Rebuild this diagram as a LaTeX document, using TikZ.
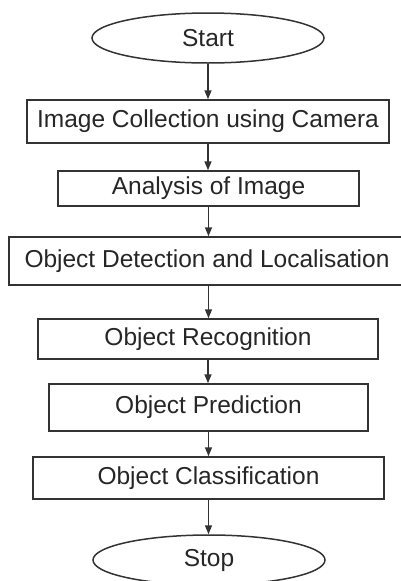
\documentclass[tikz,border=0pt]{standalone}
\usepackage{fontspec}
\setmainfont{Liberation Sans}
\usetikzlibrary{arrows.meta, shapes.geometric}

\begin{document}
\begin{tikzpicture}[
    x=1pt, y=-1pt,
    -{Triangle[length=9pt, width=7pt]},
    stepbox/.style={rectangle, draw, inner sep=0pt, font=\fontsize{24.5}{28}\selectfont},
    terminal/.style={ellipse, draw, inner sep=0pt, minimum width=232pt, minimum height=50pt, font=\fontsize{24.5}{28}\selectfont},
    line width=1.5pt, draw=black!80, text=black!85
]
\useasboundingbox (0,0) rectangle (401,581);
% Nodes
\node[terminal] (start) at (208,38) {Start};
\node[stepbox, minimum width=362pt, minimum height=43pt] (collect) at (208,121.5) {Image Collection using Camera};
\node[stepbox, minimum width=301pt, minimum height=35pt] (analyse) at (208.5,188.5) {Analysis of Image};
\node[stepbox, minimum width=396pt, minimum height=48pt] (detect) at (207,261) {Object Detection and Localisation};
\node[stepbox, minimum width=340pt, minimum height=40pt] (recog) at (208,339) {Object Recognition};
\node[stepbox, minimum width=319pt, minimum height=47pt] (predict) at (208.5,407.5) {Object Prediction};
\node[stepbox, minimum width=351pt, minimum height=42pt] (classify) at (208.5,478) {Object Classification};
\node[terminal] (stop) at (209,560) {Stop};

\draw (start) -- (start |- collect.north);
\draw (collect) -- (collect |- analyse.north);
\draw (analyse) -- (analyse |- detect.north);
\draw (detect.south -| analyse) -- (analyse |- recog.north);
\draw (recog) -- (recog |- predict.north);
\draw (predict) -- (predict |- classify.north);
\draw (classify) -- (classify |- stop.north);

\end{tikzpicture}
\end{document}
